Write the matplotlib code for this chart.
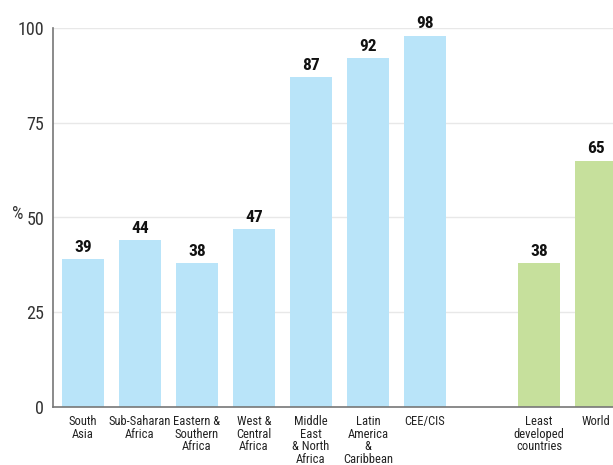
import matplotlib
matplotlib.use("Agg")
import matplotlib.pyplot as plt
from matplotlib import font_manager
from matplotlib.transforms import blended_transform_factory

names = {f.name for f in font_manager.fontManager.ttflist}
cond = None
for cand in ["Liberation Sans Narrow", "DejaVu Sans Condensed", "Roboto Condensed", "Open Sans Condensed"]:
    if cand in names:
        cond = cand
        break
fam = [cond, "DejaVu Sans"] if cond else ["DejaVu Sans"]
plt.rcParams['font.family'] = fam

categories = ["South\nAsia", "Sub-Saharan\nAfrica", "Eastern &\nSouthern\nAfrica",
              "West &\nCentral\nAfrica", "Middle\nEast\n& North\nAfrica",
              "Latin\nAmerica\n&\nCaribbean", "CEE/CIS",
              "Least\ndeveloped\ncountries", "World"]
values = [39, 44, 38, 47, 87, 92, 98, 38, 65]
positions = [0, 1, 2, 3, 4, 5, 6, 8, 9]
groups = ["region"] * 7 + ["aggregate"] * 2
yticks = [0, 25, 50, 75, 100]

colors = {"region": "#b9e4f9", "aggregate": "#c6e09c"}

W, H = 613, 465
fig = plt.figure(figsize=(W / 100, H / 100), dpi=100)
unit = 57.0
xmin, xmax = -0.526, 9.6
ax = fig.add_axes([53 / W, 58 / H, (xmax - xmin) * unit / W, 379 / H])
ax.set_xlim(xmin, xmax)
ax.set_ylim(0, 100)

ax.bar(positions, values, width=0.737, color=[colors[g] for g in groups], zorder=2)

for p, v in zip(positions, values):
    ax.annotate(str(v), (p, v), xytext=(0, 3), textcoords="offset points",
                ha="center", va="bottom", fontsize=12.5, fontweight="bold",
                color="#111111", annotation_clip=False)

ax.set_yticks(yticks)
ax.set_yticklabels([str(t) for t in yticks], fontsize=13, color="#333333")
ax.tick_params(axis="y", length=0, pad=6.5)
ax.set_xticks(positions)
ax.set_xticklabels(categories, fontsize=9, color="#222222", linespacing=0.95, va="top")
ax.tick_params(axis="x", length=0, pad=6)

for t in yticks[1:]:
    ax.axhline(t, color="#e8e8e8", lw=1.0, zorder=1)

for s in ["top", "right"]:
    ax.spines[s].set_visible(False)
for s in ["left", "bottom"]:
    ax.spines[s].set_color("#777777")
    ax.spines[s].set_linewidth(1.2)

tr = blended_transform_factory(fig.transFigure, ax.transData)
ax.text(12 / W, 50.8, "%", transform=tr, fontsize=13,
        ha="left", va="center", color="#333333")

fig.savefig("out.png", dpi=100)
